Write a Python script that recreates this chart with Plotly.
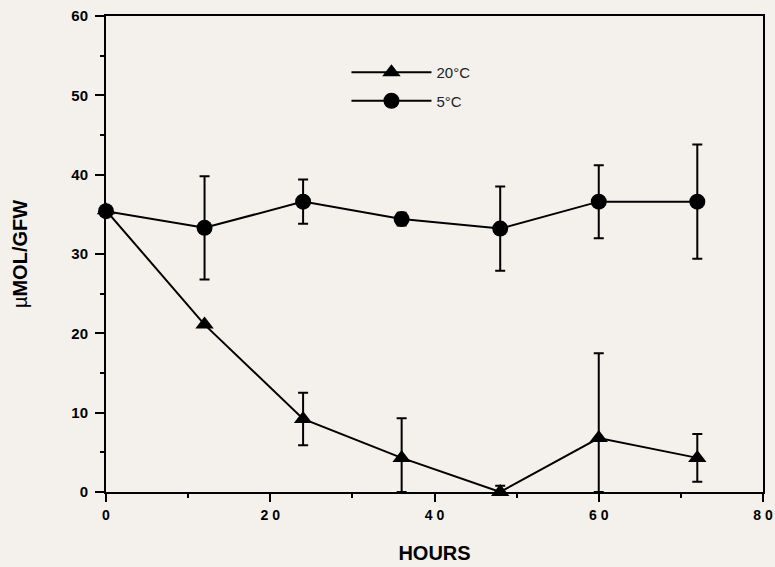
import numpy as np
import plotly.graph_objects as go

hours = [0, 12, 24, 36, 48, 60, 72]
warm_vals = [35.5, 21.1, 9.2, 4.3, 0.0, 6.8, 4.3]
warm_err = [0.0, 0.0, 3.3, 5.0, 0.8, 10.7, 3.0]
cold_vals = [35.4, 33.3, 36.6, 34.4, 33.2, 36.6, 36.6]
cold_err = [0.0, 6.5, 2.8, 0.8, 5.3, 4.6, 7.2]

x_ticks = [0, 20, 40, 60, 80]
x_ticktext = ["0", "2 0", "4 0", "6 0", "8 0"]
y_ticks = [0, 10, 20, 30, 40, 50, 60]

# lower error bars stop at the axis (value cannot go below zero)
warm_minus = np.minimum(warm_err, warm_vals)
cold_minus = np.minimum(cold_err, cold_vals)

bg = "#f4f1ec"
font = "Liberation Sans, Arial, Helvetica, sans-serif"

fig = go.Figure()
fig.add_trace(go.Scatter(
    x=hours, y=warm_vals, name="20°C", mode="lines+markers",
    line=dict(color="black", width=2),
    marker=dict(symbol="triangle-up", size=16, color="black"),
    error_y=dict(type="data", array=warm_err, arrayminus=warm_minus,
                 symmetric=False, color="black", thickness=2, width=5),
    cliponaxis=False, legendgroup="a",
))
fig.add_trace(go.Scatter(
    x=hours, y=cold_vals, name="5°C", mode="lines+markers",
    line=dict(color="black", width=2),
    marker=dict(symbol="circle", size=16, color="black"),
    error_y=dict(type="data", array=cold_err, arrayminus=cold_minus,
                 symmetric=False, color="black", thickness=2, width=5),
    cliponaxis=False, legendgroup="b",
))

fig.update_layout(
    width=775, height=567,
    margin=dict(l=106, r=12, t=16, b=75, autoexpand=False),
    paper_bgcolor=bg, plot_bgcolor=bg,
    font=dict(family=font, color="black"),
    showlegend=True,
    legend=dict(x=0.366, y=0.916, xanchor="left", yanchor="top",
                bgcolor="rgba(0,0,0,0)", font=dict(size=15, color="#222"),
                itemwidth=80, tracegroupgap=6),
    xaxis=dict(range=[0, 80], tickvals=x_ticks, ticktext=x_ticktext,
               automargin=False,
               showgrid=False, zeroline=False, showline=True, linecolor="black",
               linewidth=2, mirror=True, ticks="outside", ticklen=8, tickwidth=2,
               tickcolor="black", tickfont=dict(size=14, weight="bold"),
               ticklabelstandoff=1,
               minor=dict(dtick=10, ticks="outside", ticklen=4, tickwidth=2, tickcolor="black", showgrid=False),
               title=dict(text="HOURS", font=dict(size=20, weight="bold"), standoff=24)),
    yaxis=dict(range=[0, 60], tickvals=y_ticks,
               automargin=False,
               showgrid=False, zeroline=False, showline=True, linecolor="black",
               linewidth=2, mirror=True, ticks="outside", ticklen=9, tickwidth=2,
               tickcolor="black", tickfont=dict(size=15, weight="bold"),
               ticklabelstandoff=4,
               minor=dict(dtick=5, ticks="outside", ticklen=4, tickwidth=2, tickcolor="black", showgrid=False),
               title=dict(text="µ<b>MOL/GFW</b>", font=dict(size=20), standoff=38)),
)

fig.write_html("out.html")
